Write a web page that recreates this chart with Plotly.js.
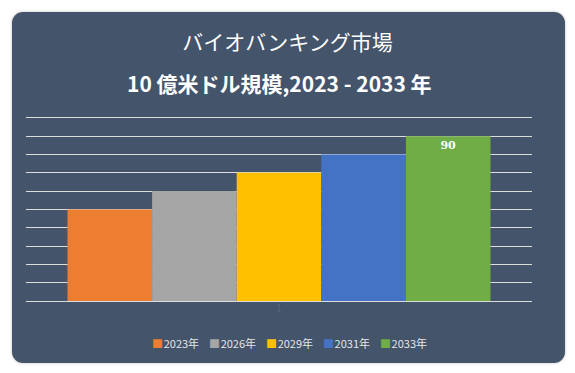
<!DOCTYPE html>
<html>
<head>
<meta charset="utf-8">
<script src="https://cdn.plot.ly/plotly-3.0.1.min.js"></script>
<style>
  html, body { margin: 0; padding: 0; background: #ffffff; }
  #wrap { position: relative; width: 575px; height: 373px; }
  #card { position: absolute; left: 12px; top: 12px; width: 553px; height: 351px;
          background: #44546a; border-radius: 11px;
          box-shadow: 0 0 3px rgba(0,0,0,0.25); }
  #chart { position: absolute; left: 0; top: 0; width: 575px; height: 373px; }
</style>
</head>
<body>
<div id="wrap">
  <div id="card"></div>
  <div id="chart"></div>
</div>
<script>
const category = ["1"];
const seriesNames = ["2023年", "2026年", "2029年", "2031年", "2033年"];
const seriesValues = [50, 60, 70, 80, 90];
const seriesLabels = ["", "", "", "", "90"];
const seriesColors = ["#ed7d31", "#a5a5a5", "#ffc000", "#4472c4", "#70ad47"];
const titleLine1 = "バイオバンキング市場";
const titleLine2 = "10 億米ドル規模,2023 - 2033 年";

const font = "'Noto Sans CJK JP', 'Noto Sans', sans-serif";

const traces = seriesNames.map((name, i) => ({
  type: "bar",
  name: name,
  x: category,
  y: [seriesValues[i]],
  marker: { color: seriesColors[i], line: { width: 0 } },
  text: seriesLabels[i] ? [seriesLabels[i]] : undefined,
  texttemplate: seriesLabels[i] ? "<b>%{text}</b>" : undefined,
  textposition: seriesLabels[i] ? "inside" : "none",
  insidetextanchor: "end",
  textfont: { color: "#ffffff", size: 11, family: "'DejaVu Serif', serif" },
  hoverinfo: "skip"
}));

// compact legend built from the series arrays
const legendText = seriesNames.map((n, i) =>
  "<span style='color:" + seriesColors[i] + "'>■</span>&#8202;" + n
).join("&nbsp;&nbsp;&nbsp;&nbsp;");

const layout = {
  width: 575,
  height: 373,
  margin: { l: 26, r: 43, t: 116, b: 72 },
  paper_bgcolor: "rgba(0,0,0,0)",
  plot_bgcolor: "rgba(0,0,0,0)",
  barmode: "group",
  bargap: 0.164,
  bargroupgap: 0,
  showlegend: false,
  title: {
    text: titleLine1,
    font: { family: font, size: 21, color: "#ffffff" },
    x: 0.5, xanchor: "center",
    y: 1 - 43 / 373, yanchor: "middle", yref: "container"
  },
  annotations: [{
    text: "<b>" + titleLine2 + "</b>",
    xref: "paper", yref: "paper",
    x: 0.5, xanchor: "center",
    y: (301 - 83) / 185, yanchor: "middle",
    showarrow: false,
    font: { family: font, size: 21, color: "#ffffff" }
  }, {
    text: legendText,
    xref: "paper", yref: "paper",
    x: (289 - 26) / 506, xanchor: "center",
    y: (301 - 343) / 185, yanchor: "middle",
    showarrow: false,
    font: { family: font, size: 11, color: "#e6e6e6" }
  }],
  xaxis: {
    type: "category",
    showgrid: false,
    zeroline: false,
    showline: false,
    ticks: "",
    tickfont: { family: font, size: 10, color: "#56647a" }
  },
  yaxis: {
    range: [0, 101],
    dtick: 10,
    showgrid: true,
    gridcolor: "#dcdcdc",
    gridwidth: 1,
    zeroline: true,
    zerolinecolor: "#dcdcdc",
    zerolinewidth: 1,
    showticklabels: false,
    ticks: ""
  }
};

Plotly.newPlot("chart", traces, layout, { staticPlot: true, displayModeBar: false });
</script>
</body>
</html>
